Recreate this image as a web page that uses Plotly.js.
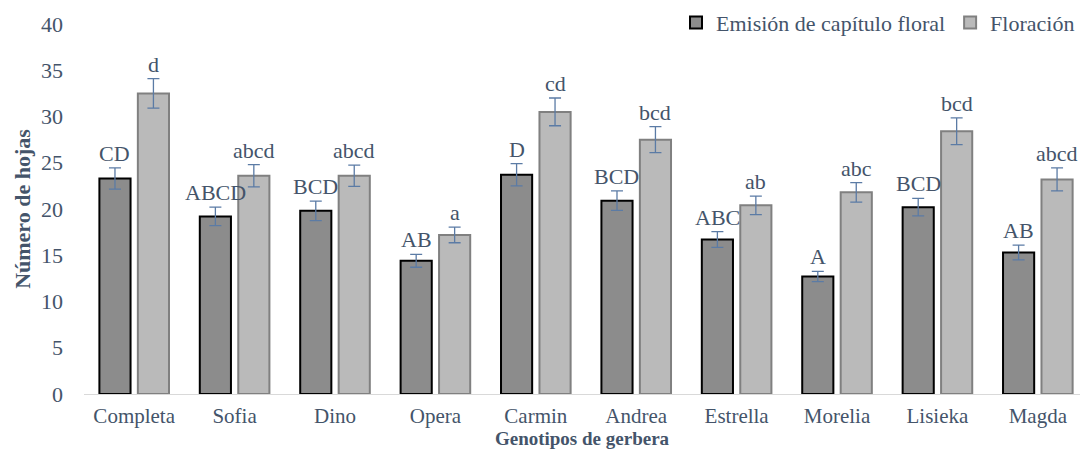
<!DOCTYPE html>
<html>
<head>
<meta charset="utf-8">
<script src="https://cdn.plot.ly/plotly-3.0.1.min.js"></script>
<style>html,body{margin:0;padding:0;background:#fff;}#chart{width:1080px;height:449px;}</style>
</head>
<body>
<div id="chart"></div>
<script>
const categories = ["Completa","Sofia","Dino","Opera","Carmin","Andrea","Estrella","Morelia","Lisieka","Magda"];
const emision = [23.3, 19.2, 19.8, 14.4, 23.7, 20.9, 16.7, 12.7, 20.2, 15.3];
const emisionErr = [1.15, 1.0, 1.05, 0.7, 1.2, 1.05, 0.85, 0.55, 0.95, 0.8];
const floracion = [32.5, 23.6, 23.6, 17.2, 30.5, 27.5, 20.4, 21.8, 28.4, 23.2];
const floracionErr = [1.6, 1.2, 1.15, 0.85, 1.5, 1.4, 1.0, 1.05, 1.45, 1.25];
const emisionLetters = ["CD","ABCD","BCD","AB","D","BCD","ABC","A","BCD","AB"];
const floracionLetters = ["d","abcd","abcd","a","cd","bcd","ab","abc","bcd","abcd"];
const yTicks = [0,5,10,15,20,25,30,35,40];

const FONT = 'Liberation Serif, Times New Roman, serif';
const TXT = '#44546A';
const ERRC = '#5B7BA5';

const traces = [
  {
    type: 'bar', name: 'Emisión de capítulo floral', x: categories, y: emision,
    marker: {color: '#8c8c8c', line: {color: '#000000', width: 2}},
    error_y: {type: 'data', array: emisionErr, visible: true, color: ERRC, thickness: 1.3, width: 6}
  },
  {
    type: 'bar', name: 'Floración', x: categories, y: floracion,
    marker: {color: '#bababa', line: {color: '#808080', width: 2}},
    error_y: {type: 'data', array: floracionErr, visible: true, color: ERRC, thickness: 1.3, width: 6}
  }
];

const SLOT = 19.25;
const annotations = [];
categories.forEach((c, i) => {
  annotations.push({x: c, y: emision[i] + emisionErr[i], xref: 'x', yref: 'y', text: emisionLetters[i],
    showarrow: false, xshift: -SLOT, yanchor: 'bottom', yshift: 0, font: {family: FONT, size: 22, color: TXT}});
  annotations.push({x: c, y: floracion[i] + floracionErr[i], xref: 'x', yref: 'y', text: floracionLetters[i],
    showarrow: false, xshift: SLOT, yanchor: 'bottom', yshift: 0, font: {family: FONT, size: 22, color: TXT}});
});

const layout = {
  width: 1080, height: 449,
  margin: {l: 84, r: 0, t: 24, b: 55, pad: 0},
  paper_bgcolor: '#ffffff', plot_bgcolor: '#ffffff',
  font: {family: FONT, size: 22, color: TXT},
  barmode: 'group', bargap: 0.234, bargroupgap: 0.19,
  showlegend: true,
  legend: {orientation: 'h', x: 1.0, xanchor: 'right', y: 1.06, yanchor: 'top',
    font: {family: FONT, size: 22, color: TXT}, bgcolor: 'rgba(0,0,0,0)', traceorder: 'normal'},
  xaxis: {
    type: 'category', range: [-0.5, 9.42], showgrid: false, zeroline: false,
    showline: true, linecolor: '#d9d9d9', linewidth: 1, ticks: '', ticklabelstandoff: 3,
    tickfont: {family: FONT, size: 21, color: TXT},
    title: {text: '<b>Genotipos de gerbera</b>', standoff: 3, font: {family: FONT, size: 19, color: TXT}},
    automargin: false
  },
  yaxis: {
    range: [0, 40], tickvals: yTicks, ticktext: yTicks.map(String), showgrid: false, zeroline: false,
    showline: false, ticks: '', ticklabelstandoff: 20,
    tickfont: {family: FONT, size: 22, color: TXT},
    title: {text: '<b>Número de hojas</b>', standoff: 4, font: {family: FONT, size: 22, color: TXT}},
    automargin: false
  },
  annotations: annotations
};

Plotly.newPlot('chart', traces, layout, {displayModeBar: false, staticPlot: true});
</script>
</body>
</html>
